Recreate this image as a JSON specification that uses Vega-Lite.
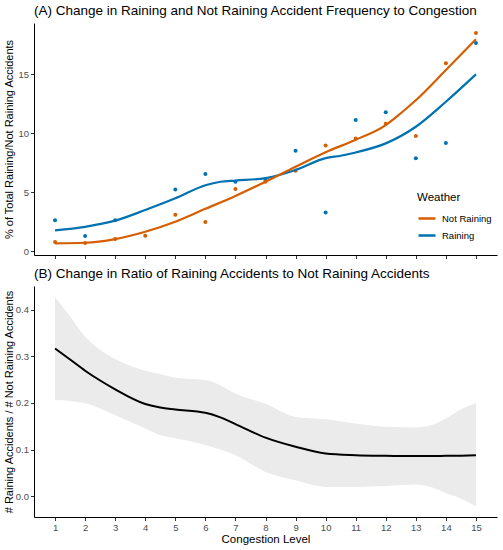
{
  "$schema": "https://vega.github.io/schema/vega-lite/v6.json",
  "background": "white",
  "padding": {"left": 2, "top": 3, "right": 2, "bottom": 2},
  "spacing": 7,
  "datasets": {
    "pts": [
      {"level": 1, "weather": "Raining", "pct": 2.63},
      {"level": 2, "weather": "Raining", "pct": 1.3},
      {"level": 3, "weather": "Raining", "pct": 2.63},
      {"level": 5, "weather": "Raining", "pct": 5.25},
      {"level": 6, "weather": "Raining", "pct": 6.55},
      {"level": 7, "weather": "Raining", "pct": 5.9},
      {"level": 8, "weather": "Raining", "pct": 6.05},
      {"level": 9, "weather": "Raining", "pct": 8.53},
      {"level": 10, "weather": "Raining", "pct": 3.3},
      {"level": 11, "weather": "Raining", "pct": 11.13},
      {"level": 12, "weather": "Raining", "pct": 11.78},
      {"level": 13, "weather": "Raining", "pct": 7.88},
      {"level": 14, "weather": "Raining", "pct": 9.18},
      {"level": 15, "weather": "Raining", "pct": 17.65},
      {"level": 1, "weather": "Not Raining", "pct": 0.79},
      {"level": 2, "weather": "Not Raining", "pct": 0.7},
      {"level": 3, "weather": "Not Raining", "pct": 1.04},
      {"level": 4, "weather": "Not Raining", "pct": 1.32},
      {"level": 5, "weather": "Not Raining", "pct": 3.1},
      {"level": 6, "weather": "Not Raining", "pct": 2.48},
      {"level": 7, "weather": "Not Raining", "pct": 5.28},
      {"level": 8, "weather": "Not Raining", "pct": 5.9},
      {"level": 9, "weather": "Not Raining", "pct": 6.83},
      {"level": 10, "weather": "Not Raining", "pct": 8.97},
      {"level": 11, "weather": "Not Raining", "pct": 9.57},
      {"level": 12, "weather": "Not Raining", "pct": 10.82},
      {"level": 13, "weather": "Not Raining", "pct": 9.77},
      {"level": 14, "weather": "Not Raining", "pct": 15.93},
      {"level": 15, "weather": "Not Raining", "pct": 18.5}
    ],
    "fit": [
      {"level": 1, "weather": "Raining", "fit": 1.78},
      {"level": 2, "weather": "Raining", "fit": 2.08},
      {"level": 3, "weather": "Raining", "fit": 2.6},
      {"level": 4, "weather": "Raining", "fit": 3.5},
      {"level": 5, "weather": "Raining", "fit": 4.49},
      {"level": 6, "weather": "Raining", "fit": 5.6},
      {"level": 6.5, "weather": "Raining", "fit": 5.9},
      {"level": 7, "weather": "Raining", "fit": 6.0},
      {"level": 8, "weather": "Raining", "fit": 6.2},
      {"level": 9, "weather": "Raining", "fit": 6.9},
      {"level": 10, "weather": "Raining", "fit": 7.9},
      {"level": 10.5, "weather": "Raining", "fit": 8.1},
      {"level": 11, "weather": "Raining", "fit": 8.38},
      {"level": 12, "weather": "Raining", "fit": 9.15},
      {"level": 13, "weather": "Raining", "fit": 10.56},
      {"level": 14, "weather": "Raining", "fit": 12.68},
      {"level": 15, "weather": "Raining", "fit": 15.0},
      {"level": 1, "weather": "Not Raining", "fit": 0.68},
      {"level": 2, "weather": "Not Raining", "fit": 0.73},
      {"level": 3, "weather": "Not Raining", "fit": 1.04},
      {"level": 4, "weather": "Not Raining", "fit": 1.66},
      {"level": 5, "weather": "Not Raining", "fit": 2.51},
      {"level": 6, "weather": "Not Raining", "fit": 3.6},
      {"level": 7, "weather": "Not Raining", "fit": 4.69},
      {"level": 8, "weather": "Not Raining", "fit": 5.9},
      {"level": 9, "weather": "Not Raining", "fit": 7.17},
      {"level": 10, "weather": "Not Raining", "fit": 8.4},
      {"level": 11, "weather": "Not Raining", "fit": 9.45},
      {"level": 12, "weather": "Not Raining", "fit": 10.7},
      {"level": 12.5, "weather": "Not Raining", "fit": 11.7},
      {"level": 13, "weather": "Not Raining", "fit": 12.8},
      {"level": 14, "weather": "Not Raining", "fit": 15.36},
      {"level": 15, "weather": "Not Raining", "fit": 17.97}
    ],
    "ratio": [
      {"level": 1, "fit": 0.3165, "lo": 0.206, "hi": 0.427},
      {"level": 1.5, "fit": 0.293, "lo": 0.204, "hi": 0.385},
      {"level": 2, "fit": 0.269, "lo": 0.199, "hi": 0.342},
      {"level": 2.5, "fit": 0.248, "lo": 0.188, "hi": 0.314},
      {"level": 3, "fit": 0.229, "lo": 0.174, "hi": 0.294},
      {"level": 4, "fit": 0.1976, "lo": 0.145, "hi": 0.269},
      {"level": 4.5, "fit": 0.19, "lo": 0.131, "hi": 0.262},
      {"level": 5, "fit": 0.186, "lo": 0.124, "hi": 0.254},
      {"level": 6, "fit": 0.179, "lo": 0.11, "hi": 0.249},
      {"level": 6.5, "fit": 0.169, "lo": 0.1, "hi": 0.238},
      {"level": 7, "fit": 0.1547, "lo": 0.088, "hi": 0.22},
      {"level": 8, "fit": 0.1255, "lo": 0.052, "hi": 0.198},
      {"level": 9, "fit": 0.106, "lo": 0.034, "hi": 0.17},
      {"level": 10, "fit": 0.0917, "lo": 0.02, "hi": 0.165},
      {"level": 11, "fit": 0.088, "lo": 0.02, "hi": 0.156},
      {"level": 12, "fit": 0.0866, "lo": 0.022, "hi": 0.149},
      {"level": 13, "fit": 0.086, "lo": 0.025, "hi": 0.1475},
      {"level": 13.5, "fit": 0.086, "lo": 0.02, "hi": 0.152},
      {"level": 14, "fit": 0.0866, "lo": 0.007, "hi": 0.167},
      {"level": 14.5, "fit": 0.087, "lo": -0.005, "hi": 0.186},
      {"level": 15, "fit": 0.088, "lo": -0.0215, "hi": 0.199}
    ]
  },
  "vconcat": [
    {
      "title": {"text": "(A) Change in Raining and Not Raining Accident Frequency to Congestion"},
      "width": 463,
      "height": 232,
      "layer": [
        {
          "data": {"name": "pts"},
          "mark": {"type": "circle", "size": 16, "opacity": 1},
          "encoding": {
            "x": {
              "field": "level",
              "type": "quantitative",
              "scale": {"domain": [0.3, 15.7], "nice": false, "zero": false},
              "axis": {"values": [1, 2, 3, 4, 5, 6, 7, 8, 9, 10, 11, 12, 13, 14, 15], "labels": false, "title": null}
            },
            "y": {
              "field": "pct",
              "type": "quantitative",
              "scale": {"domain": [-0.31, 19.35], "nice": false, "zero": false},
              "axis": {"values": [0, 5, 10, 15], "title": "% of Total Raining/Not Raining Accidents", "titleX": -20, "titleFontSize": 11}
            },
            "color": {
              "field": "weather",
              "type": "nominal",
              "scale": {"domain": ["Not Raining", "Raining"], "range": ["#D55E00", "#0072B2"]},
              "legend": {
                "title": "Weather",
                "orient": "none",
                "legendX": 383,
                "legendY": 169,
                "padding": 0,
                "symbolType": "stroke",
                "symbolSize": 289,
                "symbolStrokeWidth": 2.5,
                "titleFontSize": 11.5,
                "titleFontWeight": "normal",
                "titleColor": "#000",
                "titlePadding": 5,
                "labelFontSize": 9.5,
                "labelColor": "#000",
                "labelOffset": 5,
                "rowPadding": 2,
                "encode": {
                  "symbols": {
                    "update": {
                      "fill": {"value": "transparent"},
                      "stroke": [
                        {"test": "datum.value === 'Raining'", "value": "#0072B2"},
                        {"value": "#D55E00"}
                      ],
                      "strokeWidth": {"value": 2.5},
                      "opacity": {"value": 1}
                    }
                  }
                }
              }
            }
          }
        },
        {
          "data": {"name": "fit"},
          "mark": {"type": "line", "interpolate": "monotone", "strokeWidth": 2.2},
          "encoding": {
            "x": {
              "field": "level",
              "type": "quantitative",
              "scale": {"domain": [0.3, 15.7], "nice": false, "zero": false},
              "axis": {"values": [1, 2, 3, 4, 5, 6, 7, 8, 9, 10, 11, 12, 13, 14, 15], "labels": false, "title": null}
            },
            "y": {
              "field": "fit",
              "type": "quantitative",
              "scale": {"domain": [-0.31, 19.35], "nice": false, "zero": false},
              "axis": {"values": [0, 5, 10, 15], "title": "% of Total Raining/Not Raining Accidents", "titleX": -20, "titleFontSize": 11}
            },
            "color": {
              "field": "weather",
              "type": "nominal",
              "scale": {"domain": ["Not Raining", "Raining"], "range": ["#D55E00", "#0072B2"]}
            }
          }
        }
      ]
    },
    {
      "title": {"text": "(B) Change in Ratio of Raining Accidents to Not Raining Accidents"},
      "width": 463,
      "height": 231,
      "data": {"name": "ratio"},
      "encoding": {
        "x": {
          "field": "level",
          "type": "quantitative",
          "scale": {"domain": [0.3, 15.7], "nice": false, "zero": false},
          "axis": {"values": [1, 2, 3, 4, 5, 6, 7, 8, 9, 10, 11, 12, 13, 14, 15], "title": "Congestion Level", "titlePadding": 1}
        }
      },
      "layer": [
        {
          "mark": {"type": "area", "interpolate": "monotone", "color": "#EBEBEB"},
          "encoding": {
            "y": {
              "field": "lo",
              "type": "quantitative",
              "scale": {"domain": [-0.0445, 0.4505], "nice": false, "zero": false},
              "axis": {"values": [0, 0.1, 0.2, 0.3, 0.4], "format": ".1f", "title": "# Raining Accidents / # Not Raining Accidents", "titleX": -20, "titleFontSize": 11}
            },
            "y2": {"field": "hi"}
          }
        },
        {
          "mark": {"type": "line", "interpolate": "monotone", "color": "#000", "strokeWidth": 2},
          "encoding": {
            "y": {
              "field": "fit",
              "type": "quantitative",
              "axis": {"values": [0, 0.1, 0.2, 0.3, 0.4], "format": ".1f", "title": "# Raining Accidents / # Not Raining Accidents", "titleX": -20, "titleFontSize": 11}
            }
          }
        }
      ]
    }
  ],
  "config": {
    "font": "Liberation Sans",
    "view": {"stroke": null},
    "axis": {
      "grid": false,
      "domainColor": "#000",
      "domainWidth": 1,
      "tickColor": "#333",
      "tickSize": 3.5,
      "labelColor": "#4D4D4D",
      "labelFontSize": 9.5,
      "labelPadding": 2,
      "titleFontSize": 11.5,
      "titleFontWeight": "normal",
      "titleColor": "#000"
    },
    "title": {"fontSize": 13.5, "fontWeight": "normal", "anchor": "start", "frame": "group", "color": "#000", "offset": 6}
  }
}
